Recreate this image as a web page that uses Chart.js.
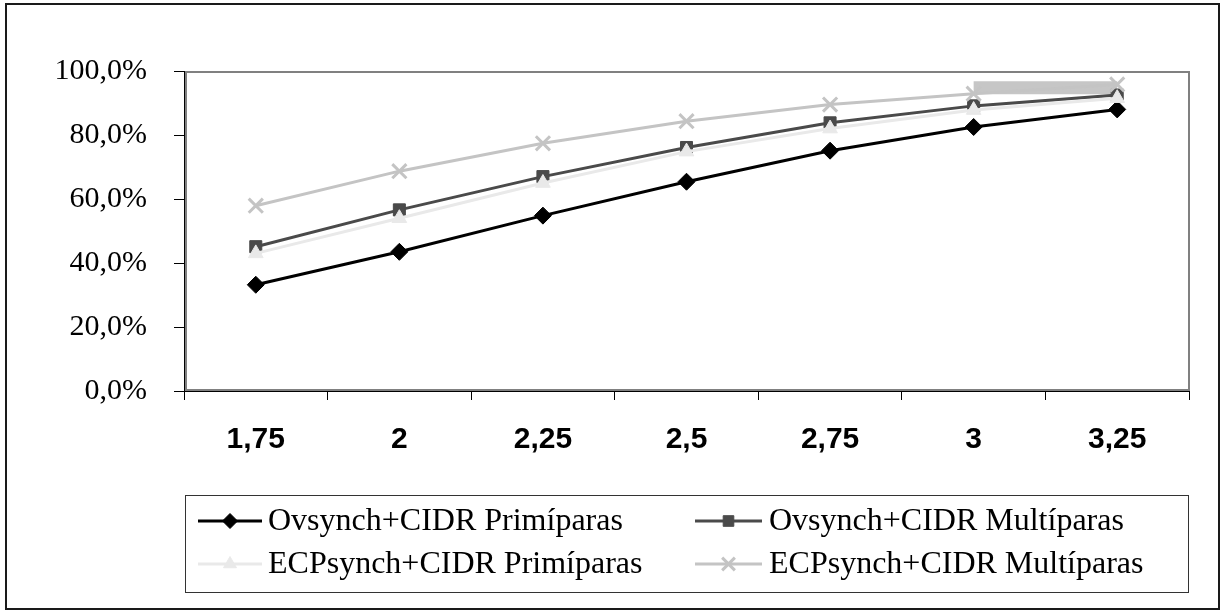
<!DOCTYPE html>
<html>
<head>
<meta charset="utf-8">
<script src="https://cdn.jsdelivr.net/npm/chart.js@4/dist/chart.umd.min.js"></script>
<style>
  html, body { margin: 0; padding: 0; background: #fff; }
  #wrap { width: 1223px; height: 612px; }
</style>
</head>
<body>
<div id="wrap"><canvas id="c" width="1223" height="612"></canvas></div>
<script>
// Dose categories (x axis)
const categories = ['1,75', '2', '2,25', '2,5', '2,75', '3', '3,25'];

// Cumulative percentages per protocol / parity
const ovsynchPrimiparas = [33.2, 43.5, 54.8, 65.4, 75.1, 82.5, 88.0];
const ovsynchMultiparas = [45.1, 56.6, 67.0, 76.1, 83.8, 89.1, 92.5];
const ecpPrimiparas     = [43.0, 54.0, 65.0, 74.8, 82.0, 87.8, 91.5];
const ecpMultiparas     = [57.9, 68.7, 77.4, 84.3, 89.5, 92.9, 95.8];

// Grey band across the last interval
const topBand = [null, null, null, null, null, 94.8, 94.8];

// Y axis ticks
const yTickValues = [0, 20, 40, 60, 80, 100];

const seriesNames = [
  'Ovsynch+CIDR Primíparas',
  'Ovsynch+CIDR Multíparas',
  'ECPsynch+CIDR Primíparas',
  'ECPsynch+CIDR Multíparas'
];

const styles = [
  { color: '#000000', point: 'rectRot', radius: 8.5, bw: 1, legendRadius: 7.5 },
  { color: '#4a4a4a', point: 'rect', radius: 8.5, bw: 1, legendRadius: 7.5 },
  { color: '#e9e9e9', point: 'triangle', radius: 8.5, bw: 1, legendRadius: 7.5 },
  { color: '#c4c4c4', point: 'crossRot', radius: 10, bw: 3, legendRadius: 9 }
];

const seriesData = [ovsynchPrimiparas, ovsynchMultiparas, ecpPrimiparas, ecpMultiparas];

const datasets = seriesData.map((d, i) => ({
  label: seriesNames[i],
  data: d,
  borderColor: styles[i].color,
  backgroundColor: styles[i].color,
  borderWidth: 3,
  pointStyle: styles[i].point,
  pointRadius: styles[i].radius,
  pointBorderWidth: styles[i].bw,
  pointBackgroundColor: styles[i].color,
  pointBorderColor: styles[i].color,
  tension: 0,
  order: 3 - i
}));

datasets.push({
  label: 'band',
  data: topBand,
  borderColor: '#c6c6c6',
  borderWidth: 13,
  borderCapStyle: 'butt',
  pointRadius: 0,
  tension: 0,
  order: 10
});

const frame = {
  id: 'frame',
  beforeDatasetsDraw(chart) {
    const { ctx, chartArea: a } = chart;
    ctx.save();
    ctx.strokeStyle = '#808080';
    ctx.lineWidth = 2;
    ctx.strokeRect(a.left + 2, a.top + 1, a.right - a.left - 2, a.bottom - a.top - 2);
    ctx.restore();
  },
  afterDraw(chart) {
    const ctx = chart.ctx;
    ctx.save();
    // outer border
    ctx.strokeStyle = '#1a1a1a';
    ctx.lineWidth = 2;
    ctx.strokeRect(6, 4, 1213, 605);

    // legend box
    ctx.strokeStyle = '#333333';
    ctx.lineWidth = 1;
    ctx.strokeRect(185.5, 495.5, 1003, 97);

    const cols = [{ x0: 198, x1: 262, tx: 268 }, { x0: 695, x1: 762, tx: 769 }];
    const rows = [521, 564];
    ctx.font = '32px "Liberation Serif", "Times New Roman", serif';
    ctx.textBaseline = 'middle';
    ctx.textAlign = 'left';
    seriesNames.forEach((name, i) => {
      const c = cols[i % 2];
      const y = rows[Math.floor(i / 2)];
      const s = styles[i];
      ctx.strokeStyle = s.color;
      ctx.lineWidth = 3;
      ctx.beginPath();
      ctx.moveTo(c.x0, y);
      ctx.lineTo(c.x1, y);
      ctx.stroke();
      ctx.fillStyle = s.color;
      ctx.strokeStyle = s.color;
      ctx.lineWidth = s.bw;
      Chart.helpers.drawPoint(ctx, { pointStyle: s.point, radius: s.legendRadius, borderWidth: s.bw, rotation: 0 },
        (c.x0 + c.x1) / 2, y);
      ctx.fillStyle = '#000';
      ctx.fillText(name, c.tx, y + 1);
    });
    ctx.restore();
  }
};

new Chart(document.getElementById('c'), {
  type: 'line',
  data: { labels: categories, datasets },
  options: {
    responsive: false,
    devicePixelRatio: 1,
    animation: false,
    layout: { padding: { top: 71, right: 34, left: 0, bottom: 0 } },
    plugins: { legend: { display: false }, tooltip: { enabled: false } },
    scales: {
      x: {
        offset: true,
        grid: { offset: true, drawOnChartArea: false, drawTicks: true, tickLength: 9, color: '#000' },
        border: { color: '#000', width: 1 },
        ticks: {
          color: '#000',
          padding: 22,
          maxRotation: 0,
          font: { family: '"Liberation Sans", Arial, sans-serif', size: 30, weight: 'bold' }
        },
        afterFit(s) { s.height = 612 - 391; }
      },
      y: {
        min: 0,
        max: 100,
        afterBuildTicks(s) { s.ticks = yTickValues.map(v => ({ value: v })); },
        grid: { drawOnChartArea: false, drawTicks: true, tickLength: 10, color: '#000' },
        border: { color: '#000', width: 1 },
        ticks: {
          color: '#000',
          padding: 27,
          font: { family: '"Liberation Serif", "Times New Roman", serif', size: 30 },
          callback: v => v.toFixed(1).replace('.', ',') + '%'
        },
        afterFit(s) { s.width = 184; }
      }
    }
  },
  plugins: [frame]
});
</script>
</body>
</html>
